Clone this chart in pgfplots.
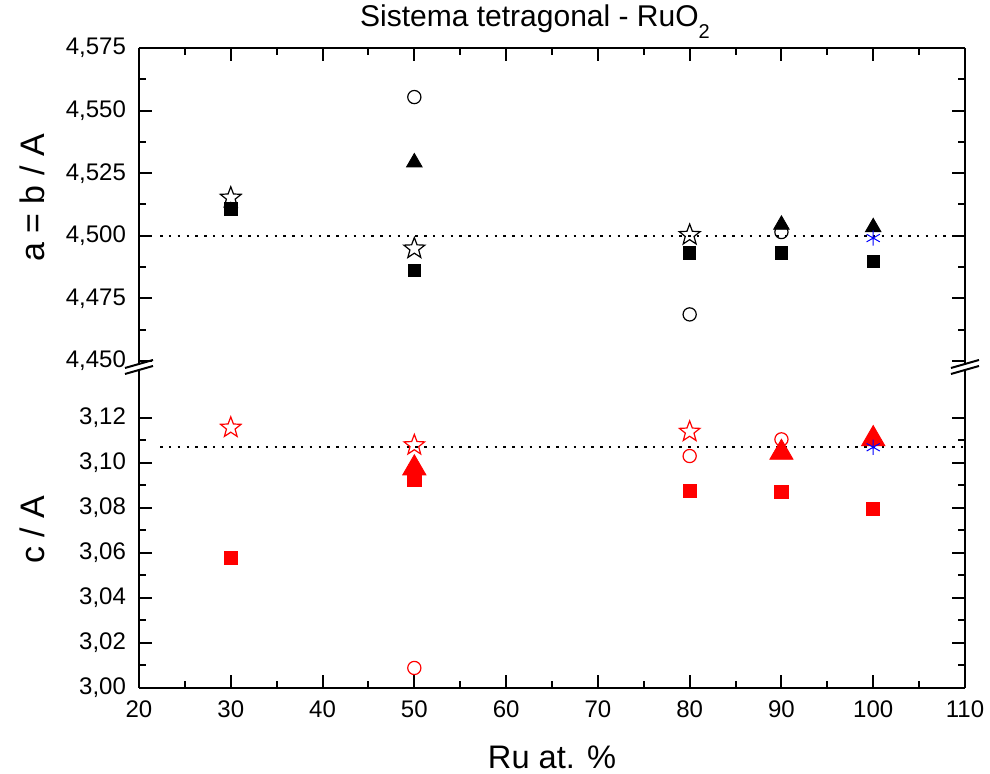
\documentclass[border=0pt]{standalone}
\usepackage{fontspec}
\setmainfont{Liberation Sans}
\usepackage{pgfplots}
\pgfplotsset{compat=1.18}
\pgfdeclareplotmark{ostar}{%
  \pgfpathmoveto{\pgfpointpolar{90}{\pgfplotmarksize}}%
  \pgfpathlineto{\pgfpointpolar{126}{0.42\pgfplotmarksize}}%
  \pgfpathlineto{\pgfpointpolar{162}{\pgfplotmarksize}}%
  \pgfpathlineto{\pgfpointpolar{198}{0.42\pgfplotmarksize}}%
  \pgfpathlineto{\pgfpointpolar{234}{\pgfplotmarksize}}%
  \pgfpathlineto{\pgfpointpolar{270}{0.42\pgfplotmarksize}}%
  \pgfpathlineto{\pgfpointpolar{306}{\pgfplotmarksize}}%
  \pgfpathlineto{\pgfpointpolar{342}{0.42\pgfplotmarksize}}%
  \pgfpathlineto{\pgfpointpolar{18}{\pgfplotmarksize}}%
  \pgfpathlineto{\pgfpointpolar{54}{0.42\pgfplotmarksize}}%
  \pgfpathclose
  \pgfusepathqstroke}
\definecolor{myred}{RGB}{255,0,0}
\definecolor{myblue}{RGB}{0,0,255}
\begin{document}
\begin{tikzpicture}
\useasboundingbox (-69.5pt,-43pt) rectangle (425.5pt,344pt);
\pgfplotsset{
  common/.style={
    scale only axis, width=413pt, xmin=20, xmax=110,
    xtick={20,30,...,110}, minor x tick num=1, minor y tick num=1,
    axis line style={line width=1pt},
    every tick/.style={line width=1pt, black},
    major tick length=6.5pt, minor tick length=3.5pt,
    tick align=inside,
    /pgf/number format/assume math mode=true,
    tick label style={font=\fontsize{12}{14}\selectfont},
    yticklabel style={xshift=-3pt},
    xticklabel style={yshift=-3pt},
    ytick pos=both, yticklabel pos=left,
    clip=false,
  },
  blsq/.style={only marks, mark=square*, mark size=3.1pt, black, mark options={draw=none, fill=black}},
  blci/.style={only marks, mark=o, mark size=3.3pt, black, mark options={line width=0.6pt}},
  bltr/.style={only marks, mark=triangle*, mark size=4.5pt, black, mark options={draw=none, fill=black}},
  blst/.style={only marks, mark=ostar, mark size=5.5pt, black, mark options={line width=0.6pt}},
  rdsq/.style={only marks, mark=square*, mark size=3.3pt, myred, mark options={draw=none, fill=myred}},
  rdci/.style={only marks, mark=o, mark size=3.3pt, myred, mark options={line width=0.6pt}},
  rdtr/.style={only marks, mark=triangle*, mark size=6.7pt, myred, mark options={draw=none, fill=myred}},
  rdst/.style={only marks, mark=ostar, mark size=5.4pt, myred, mark options={line width=0.6pt}},
  ast/.style={only marks, mark=asterisk, mark size=3.8pt, myblue, mark options={line width=0.5pt}},
}
% top axis
\begin{axis}[common, name=top, at={(0,163.5pt)}, anchor=south west,
  height=156.5pt, ymin=4.450, ymax=4.575,
  ytick={4.450,4.475,...,4.576},
  axis x line*=top, axis y line*=box,
  xtick pos=right, xticklabels={},
  yticklabel style={/pgf/number format/.cd, fixed, fixed zerofill, precision=3, use comma},
]
\addplot[densely dotted, dash pattern=on 1.2pt off 3.2pt, line width=0.8pt] coordinates {(22.3,4.500) (110,4.500)};
\addplot[blsq] coordinates {(30,4.5107) (50,4.4862) (80,4.4932) (90,4.4932) (100,4.4897)};
\addplot[bltr] coordinates {(50,4.5293) (90,4.5044) (100,4.5034)};
\addplot[blci] coordinates {(50,4.5554) (80,4.4686) (90,4.5015)};
\addplot[blst] coordinates {(30,4.5152) (50,4.4949) (80,4.5003)};
\addplot[ast] coordinates {(100,4.4991)};
\end{axis}
% bottom axis
\begin{axis}[common, name=bot, at={(0,0)}, anchor=south west,
  height=157.5pt, ymin=3.00, ymax=3.14,
  ytick={3.00,3.02,...,3.121},
  axis x line*=bottom, axis y line*=box,
  xtick pos=left,
  yticklabel style={/pgf/number format/.cd, fixed, fixed zerofill, precision=2, use comma},
]
\addplot[densely dotted, dash pattern=on 1.2pt off 3.2pt, line width=0.8pt] coordinates {(22.3,3.1072) (110,3.1072)};
\addplot[rdsq] coordinates {(30,3.0578) (50,3.0924) (80,3.0876) (90,3.0871) (100,3.0796)};
\addplot[rdci] coordinates {(50,3.0089) (80,3.1031) (90,3.1105)};
\addplot[rdtr] coordinates {(50,3.0977) (90,3.1046) (100,3.1107)};
\addplot[rdst] coordinates {(30,3.1157) (50,3.1079) (80,3.1139)};
\addplot[ast] coordinates {(100,3.1070)};
\end{axis}
% axis break marks
\foreach \xx in {0pt,413pt}{
  \draw[line width=1pt] (\xx,157.5pt) -- (\xx,163.5pt);
  \fill[white] ([xshift=-1pt]\xx,158.5pt) rectangle ([xshift=1pt]\xx,162.5pt);
  \draw[line width=1pt] ([xshift=-7pt]\xx,157pt) -- ([xshift=7pt]\xx,161pt);
  \draw[line width=1pt] ([xshift=-7pt]\xx,160pt) -- ([xshift=7pt]\xx,164pt);
}
% labels
\node[rotate=90, font=\fontsize{17}{19}\selectfont] at (-53.5pt,245pt) {a = b / A};
\node[rotate=90, font=\fontsize{17}{19}\selectfont] at (-53.5pt,79pt) {c / A};
\node[font=\fontsize{16.3}{18}\selectfont, inner sep=0pt] at (206.5pt,-34.5pt) {Ru at. \%};
\node[font=\fontsize{15}{17}\selectfont] at (198pt,333pt) {Sistema tetragonal - RuO\raisebox{-0.75ex}{\fontsize{10}{11}\selectfont 2}};
\end{tikzpicture}
\end{document}
